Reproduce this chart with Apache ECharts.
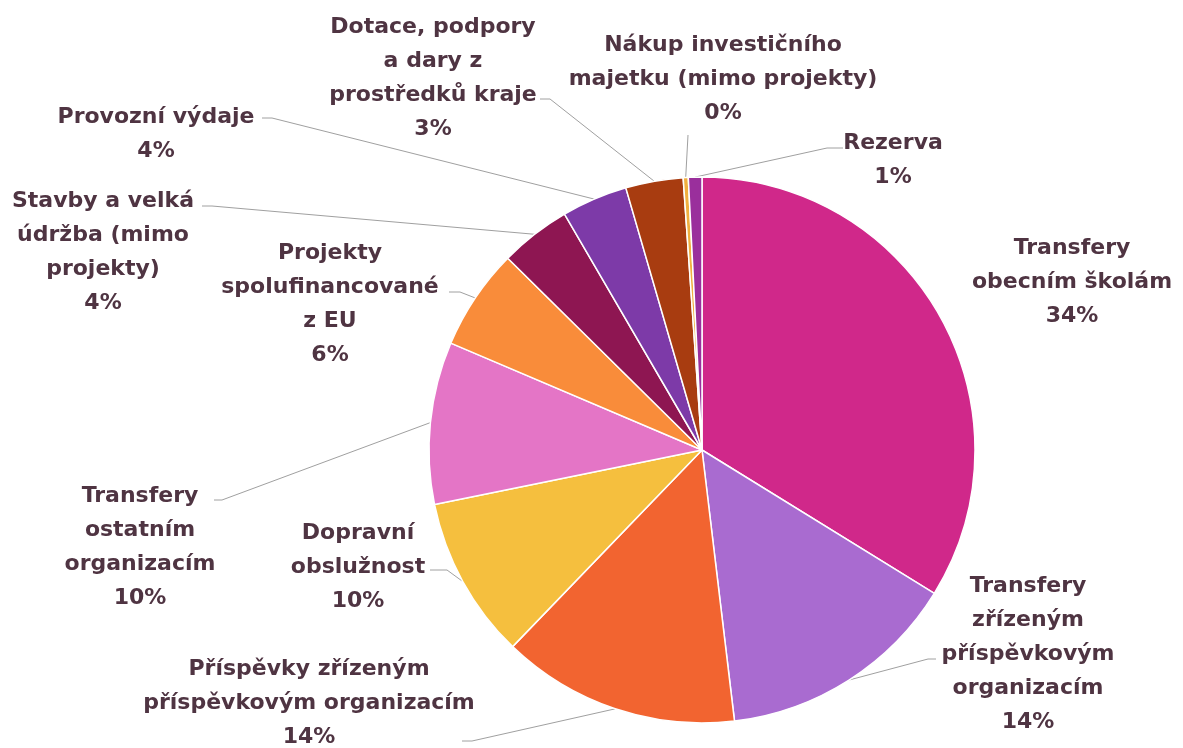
<!DOCTYPE html>
<html>
<head>
<meta charset="utf-8">
<script src="https://cdn.jsdelivr.net/npm/echarts@6/dist/echarts.min.js"></script>
<style>
html,body{margin:0;padding:0;background:#fff;}
#chart{width:1183px;height:748px;}
</style>
</head>
<body>
<div id="chart"></div>
<script>
const categories = [
  'Transfery\nobecním školám',
  'Transfery\nzřízeným\npříspěvkovým\norganizacím',
  'Příspěvky zřízeným\npříspěvkovým organizacím',
  'Dopravní\nobslužnost',
  'Transfery\nostatním\norganizacím',
  'Projekty\nspolufinancované\nz EU',
  'Stavby a velká\núdržba (mimo\nprojekty)',
  'Provozní výdaje',
  'Dotace, podpory\na dary z\nprostředků kraje',
  'Nákup investičního\nmajetku (mimo projekty)',
  'Rezerva'
];
const values = [33.8, 14.3, 14.1, 9.6, 9.6, 6.0, 4.2, 3.9, 3.4, 0.3, 0.8];
const colors = ['#d0288a', '#a96bd0', '#f26430', '#f5bf3e', '#e475c6', '#f98c3a', '#8e1652', '#7d3aa8', '#a83c10', '#f0b040', '#9a2f9c'];

// layout only: label centres, leader-line end at the label, and bend point
const labelPos = [
  [1072, 282], [1028, 654], [309, 703], [358, 567], [140, 547],
  [330, 304], [103, 252], [156, 134], [433, 78], [723, 79], [893, 160]
];
const lineEnd = [
  null, [936, 659], [462, 741], [430, 570], [214, 500],
  [449, 292], [202, 206], [262, 118], [540, 99], [688, 135], [843, 148]
];
const lineBend = [
  null, [928, 659], [472, 741], [447, 570], [222, 500],
  [460, 292], [212, 206], [272, 118], [550, 99], [688, 135], [827, 148]
];

const CX = 702, CY = 450, R = 273;
const total = values.reduce((a, b) => a + b, 0);
function edgePoint(i) {
  let acc = 0;
  for (let k = 0; k < i; k++) acc += values[k];
  const mid = (acc + values[i] / 2) / total * 2 * Math.PI;
  return [CX + R * Math.sin(mid), CY - R * Math.cos(mid)];
}

const chart = echarts.init(document.getElementById('chart'));
chart.setOption({
  backgroundColor: '#fff',
  animation: false,
  series: [{
    type: 'pie',
    center: [CX, CY],
    radius: [0, R],
    startAngle: 90,
    clockwise: true,
    avoidLabelOverlap: false,
    data: categories.map((c, i) => ({
      name: c,
      value: values[i],
      itemStyle: { color: colors[i] },
      labelLine: { show: lineEnd[i] !== null }
    })),
    itemStyle: { borderColor: '#fff', borderWidth: 1.5 },
    label: {
      show: true,
      position: 'outside',
      formatter: p => p.name + '\n' + Math.round(p.percent) + '%',
      fontFamily: 'DejaVu Sans',
      fontWeight: 'bold',
      fontSize: 22,
      lineHeight: 34,
      color: '#4f3442',
      align: 'center'
    },
    labelLine: { show: true, lineStyle: { color: '#a0a0a0', width: 1 } },
    labelLayout: p => {
      const i = p.dataIndex;
      const o = {
        x: labelPos[i][0],
        y: labelPos[i][1],
        align: 'center',
        verticalAlign: 'middle'
      };
      if (lineEnd[i]) {
        const e = (p.labelLinePoints && p.labelLinePoints[0]) || edgePoint(i);
        o.labelLinePoints = [e, lineBend[i], lineEnd[i]];
      }
      return o;
    }
  }]
});
</script>
</body>
</html>
